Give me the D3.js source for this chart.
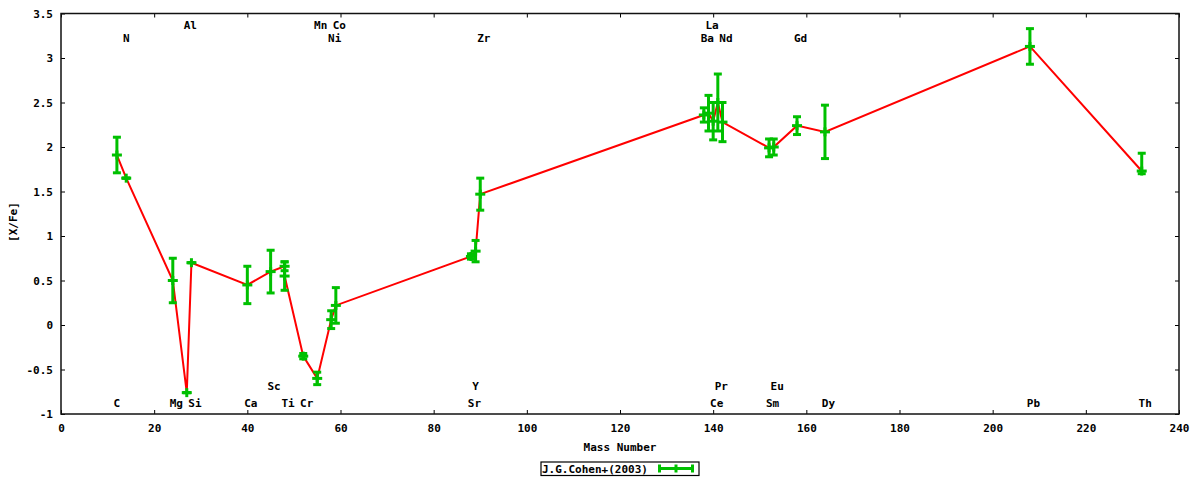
<!DOCTYPE html>
<html>
<head>
<meta charset="utf-8">
<script src="https://cdn.jsdelivr.net/npm/d3@7/dist/d3.min.js"></script>
<style>
  body { margin: 0; background: #fff; }
  svg { display: block; }
  text { font-family: "DejaVu Sans Mono", monospace; font-weight: bold; font-size: 11px; fill: #000; }
</style>
</head>
<body>
<svg id="chart" width="1200" height="480"></svg>
<script>
// elements in plotting order (the red line follows this order)
const elements = ["C", "N", "Mg", "Al", "Si", "Ca", "Sc", "Ti", "Ti", "Cr", "Mn", "Ni", "Co",
                  "Sr", "Y", "Zr", "Ba", "La", "Ce", "Pr", "Nd", "Sm", "Eu", "Gd", "Dy", "Pb", "Th"];
const masses = [12, 14, 24, 27, 28, 40, 45, 48, 48, 52, 55, 58, 59,
                88, 89, 90, 138, 139, 140, 141, 142, 152, 153, 158, 164, 208, 232];
const abundances = [1.91, 1.65, 0.50, -0.76, 0.70, 0.45, 0.60, 0.66, 0.55, -0.35, -0.60, 0.06, 0.22,
                    0.77, 0.83, 1.47, 2.36, 2.38, 2.29, 2.50, 2.28, 1.99, 2.00, 2.24, 2.17, 3.13, 1.73];
const errLow = [0.20, 0.00, 0.25, 0.00, 0.00, 0.21, 0.24, 0.05, 0.16, 0.03, 0.07, 0.10, 0.20,
                0.03, 0.12, 0.18, 0.08, 0.20, 0.21, 0.32, 0.22, 0.10, 0.09, 0.10, 0.30, 0.20, 0.03];
const errHigh = [0.20, 0.00, 0.25, 0.00, 0.00, 0.21, 0.24, 0.05, 0.16, 0.03, 0.07, 0.10, 0.20,
                 0.03, 0.12, 0.18, 0.08, 0.20, 0.21, 0.32, 0.22, 0.10, 0.09, 0.10, 0.30, 0.20, 0.20];

// element name labels: text, mass, row (0,1 on top; 2,3 at bottom)
const labelNames  = ["Al", "Mn", "Co", "La", "N", "Ni", "Zr", "Ba", "Nd", "Gd",
                     "Sc", "Y", "Pr", "Eu",
                     "C", "Mg", "Si", "Ca", "Ti", "Cr", "Sr", "Ce", "Sm", "Dy", "Pb", "Th"];
const labelMasses = [27, 55, 59, 139, 14, 58, 90, 138, 142, 158,
                     45, 89, 141, 153,
                     12, 24, 28, 40, 48, 52, 88, 140, 152, 164, 208, 232];
const labelRows   = [0, 0, 0, 0, 1, 1, 1, 1, 1, 1,
                     2, 2, 2, 2,
                     3, 3, 3, 3, 3, 3, 3, 3, 3, 3, 3, 3];
const rowLevels = [3.36, 3.22, -0.69, -0.88];

const xTicks = d3.range(0, 241, 20);
const yTicks = [-1, -0.5, 0, 0.5, 1, 1.5, 2, 2.5, 3, 3.5];
const legendLabel = "J.G.Cohen+(2003)";

const red = "#ff0000";
const green = "#00c000";

const margin = { top: 13.5, right: 21, bottom: 66, left: 61 };
const width = 1200, height = 480;

const svg = d3.select("#chart");

const x = d3.scaleLinear().domain([0, 240]).range([margin.left, width - margin.right]);
const y = d3.scaleLinear().domain([-1, 3.5]).range([height - margin.bottom, margin.top]);

const fmt = d => String(d);

// axes with inward ticks, mirrored on top and right
svg.append("g")
    .attr("transform", `translate(0,${y(-1)})`)
    .call(d3.axisBottom(x).tickValues(xTicks).tickSize(-4).tickPadding(10).tickFormat(fmt));
svg.append("g")
    .attr("transform", `translate(${x(0)},0)`)
    .call(d3.axisLeft(y).tickValues(yTicks).tickSize(-4).tickPadding(8).tickFormat(fmt));
svg.append("g")
    .attr("transform", `translate(0,${y(3.5)})`)
    .call(d3.axisTop(x).tickValues(xTicks).tickSize(-4).tickFormat(""));
svg.append("g")
    .attr("transform", `translate(${x(240)},0)`)
    .call(d3.axisRight(y).tickValues(yTicks).tickSize(-4).tickFormat(""));

svg.selectAll(".domain").remove();
svg.selectAll(".tick line").attr("stroke", "#000").attr("stroke-width", 1);
svg.selectAll(".tick text").attr("font-family", null).attr("font-size", null);

// frame
svg.append("rect")
    .attr("x", x(0)).attr("y", y(3.5))
    .attr("width", x(240) - x(0)).attr("height", y(-1) - y(3.5))
    .attr("fill", "none").attr("stroke", "#111").attr("stroke-width", 1.5);

// axis titles
svg.append("text")
    .attr("x", (x(0) + x(240)) / 2).attr("y", 447)
    .attr("text-anchor", "middle").attr("dominant-baseline", "central")
    .text("Mass Number");
svg.append("text")
    .attr("transform", `translate(13,222) rotate(-90)`)
    .attr("text-anchor", "middle").attr("dominant-baseline", "central")
    .text("[X/Fe]");

// element labels
const labelGroup = svg.append("g");
labelNames.forEach((name, i) => {
    labelGroup.append("text")
        .attr("x", x(labelMasses[i]) + (name.length - 1) * 3.5)
        .attr("y", y(rowLevels[labelRows[i]]))
        .attr("text-anchor", "middle")
        .attr("dominant-baseline", "central")
        .text(name);
});

// connecting line
const points = masses.map((m, i) => [m, abundances[i]]);
svg.append("path")
    .datum(points)
    .attr("fill", "none")
    .attr("stroke", red)
    .attr("stroke-width", 2)
    .attr("d", d3.line().x(d => x(d[0])).y(d => y(d[1])));

// error bars with crossbars and '+' marker
function drawErrorBar(g, cx, cyLow, cy, cyHigh) {
    const seg = (x1, y1, x2, y2) => g.append("line")
        .attr("x1", x1).attr("y1", y1).attr("x2", x2).attr("y2", y2)
        .attr("stroke", green).attr("stroke-width", 3);
    seg(cx, cyLow, cx, cyHigh);
    seg(cx - 4, cyLow, cx + 4, cyLow);
    seg(cx - 4, cyHigh, cx + 4, cyHigh);
    seg(cx - 5, cy, cx + 5, cy);
    seg(cx, cy - 4.5, cx, cy + 4.5);
}

const barGroup = svg.append("g");
masses.forEach((m, i) => {
    drawErrorBar(barGroup, x(m),
        y(abundances[i] - errLow[i]), y(abundances[i]), y(abundances[i] + errHigh[i]));
});

// legend
const legend = svg.append("g");
legend.append("rect")
    .attr("x", 541).attr("y", 462).attr("width", 158).attr("height", 13.5)
    .attr("fill", "#fff").attr("stroke", "#000").attr("stroke-width", 1.2);
legend.append("text")
    .attr("x", 542).attr("y", 469)
    .attr("dominant-baseline", "central")
    .text(legendLabel);
const ly = 468.5;
[[658, ly, 694, ly], [659.5, ly - 4, 659.5, ly + 4], [692.5, ly - 4, 692.5, ly + 4], [676, ly - 4, 676, ly + 4]]
    .forEach(s => legend.append("line")
        .attr("x1", s[0]).attr("y1", s[1]).attr("x2", s[2]).attr("y2", s[3])
        .attr("stroke", green).attr("stroke-width", 3));
</script>
</body>
</html>
